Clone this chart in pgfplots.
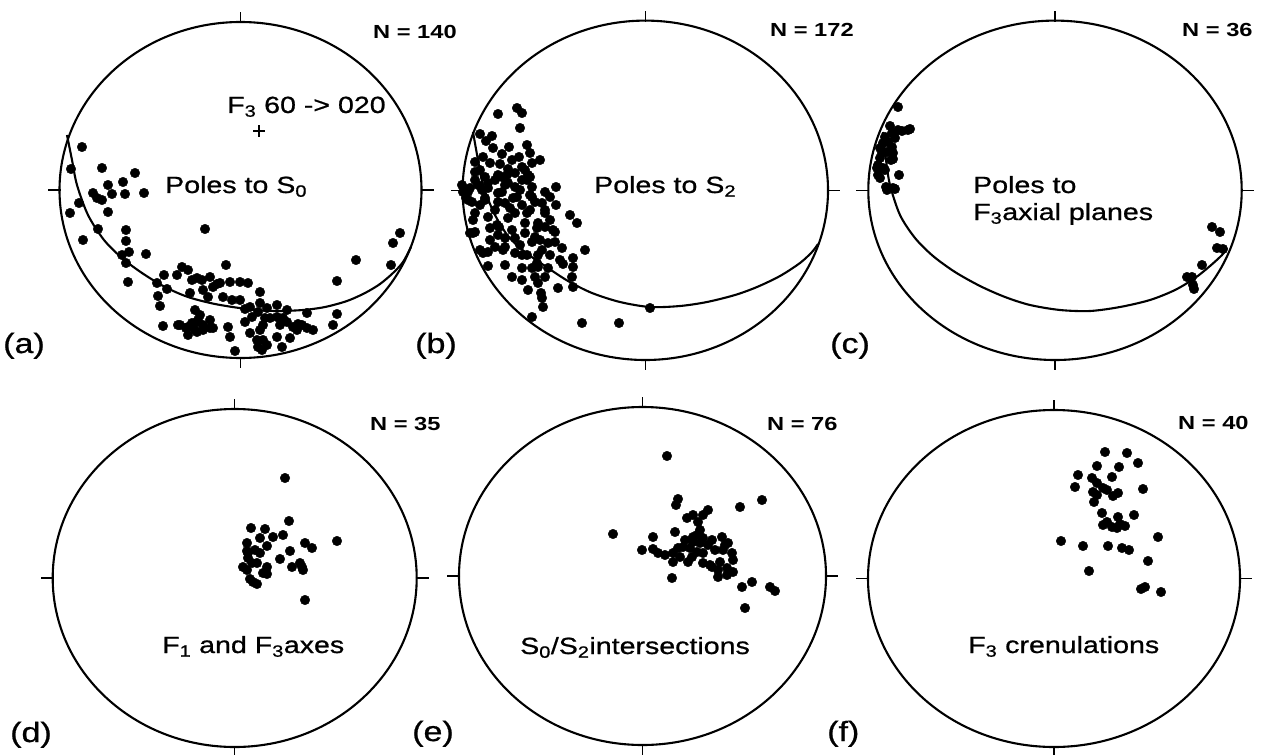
\documentclass[border=0pt]{standalone}
\usepackage{fontspec}
\setmainfont{Liberation Sans}[FakeStretch=1.22,FakeBold=0.8]
\newfontfamily\nfont{Liberation Sans}[FakeStretch=1.25]
\usepackage{pgfplots}
\pgfplotsset{compat=1.18}
\newcommand\net[4]{%
  \draw[line width=2.1bp] (axis cs:#1,#2) ellipse [x radius=#3bp, y radius=#4bp];
  \draw[line width=1.5bp] (axis cs:#1,#2) ++(0,#4bp-1bp) -- ++(0,11bp);
  \draw[line width=1.5bp] (axis cs:#1,#2) ++(0,-#4bp+1bp) -- ++(0,-11bp);
  \draw[line width=1.5bp] (axis cs:#1,#2) ++(-#3bp+1bp,0) -- ++(-13bp,0);
  \draw[line width=1.5bp] (axis cs:#1,#2) ++(#3bp-1bp,0) -- ++(13bp,0);
}
\newcommand\lbl[3]{\node[anchor=base west,inner sep=0pt,font=\fontsize{23.5}{26}\selectfont] at (axis cs:#1,#2) {#3};}
\newcommand\nlbl[3]{\node[anchor=base west,inner sep=0pt,font=\nfont\bfseries\fontsize{19}{21}\selectfont] at (axis cs:#1,#2) {#3};}
\newcommand\plbl[3]{\node[anchor=base west,inner sep=0pt,font=\fontsize{28}{30}\selectfont] at (axis cs:#1,#2) {#3};}
\begin{document}
\begin{tikzpicture}
\begin{axis}[width=1261bp,height=755bp,scale only axis,
  xmin=0,xmax=1261,ymin=0,ymax=755,y dir=reverse,hide axis,clip=false]
\coordinate (BL) at (axis cs:0,755);
\coordinate (TR) at (axis cs:1261,0);
% primitive circles with N/S/E/W ticks
\net{240.5}{190}{181}{168}
\net{645.3}{190.3}{182.7}{169.7}
\net{1055}{190.3}{186.7}{169.7}
\net{234.7}{578}{182}{169}
\net{642.5}{576}{183.5}{169}
\net{1054}{578.5}{186}{168.5}
% great circles
\addplot[smooth,line width=2.1bp,no markers] coordinates {
(67,135) (72,160) (77,185) (88,215) (104,240) (122,258) (142,273) (165,287) (188,297) (215,304) (247,309) (275,311) (303,310) (325,307) (347,301) (365,293) (380,284) (393,273) (403,262) (411,247)};
\addplot[smooth,line width=2.1bp,no markers] coordinates {
(473,132) (478,160) (483,185) (494,213) (508,236) (525,252) (545,266) (568,281) (592,293) (620,302) (650,307) (680,306) (707,302) (735,295) (757,287) (780,276) (800,263) (812,252) (818,244)};
\addplot[smooth,line width=2.1bp,no markers] coordinates {
(883,132) (886,160) (890,185) (900,215) (915,238) (933,256) (955,272) (980,286) (1005,297) (1030,305) (1060,310) (1090,311) (1120,307) (1150,300) (1175,290) (1195,278) (1210,266) (1222,255) (1227,248)};
% (a) poles to S0
\addplot[only marks,mark=*,mark size=4.8pt,black] coordinates {
(82,147)(71,169)(102,168)(135,173)(123,182)(108,185)(93,193)(97,198)(102,200)(112,194)(125,194)(144,193)(79,203)(70,213)(108,212)(98,229)(126,230)(83,240)(126,241)(129,252)(122,255)(126,263)(146,254)(128,282)(205,229)
(226,265)(182,267)(188,270)(177,275)(164,275)(192,280)(202,280)(210,277)(220,283)(230,282)(240,282)(248,283)(157,283)(167,289)(203,290)(213,287)(190,293)(208,297)(223,297)(232,300)(240,300)(260,292)(250,307)(260,303)(258,312)(267,308)(277,305)(287,310)(195,310)(200,315)(197,322)(210,320)(180,325)(188,327)(195,330)(203,330)(213,328)(228,327)(230,337)(245,322)(252,317)(265,318)(277,317)(280,325)(287,322)(293,327)(302,325)(250,333)(260,330)(263,340)(258,347)(267,345)(282,347)(290,338)(235,351)(188,335)(158,296)(160,306)(163,326)(307,313)(307,328)(313,330)(298,324)(337,314)(333,325)(337,281)(356,260)(391,265)(393,243)(400,233)
(197,278)(217,284)(245,309)(270,318)(283,318)(263,325)(277,337)(297,330)(197,332)(186,328)(192,323)(198,320)(203,325)(178,325)(210,328)(257,340)(262,350)};
\addplot[only marks,mark=+,mark size=6pt,line width=2.2bp,black] coordinates {(259,131)};
% (b) poles to S2
\addplot[only marks,mark=*,mark size=4.8pt,black] coordinates {
(517,108)(522,113)(498,114)(520,128)(480,134)(486,141)(492,136)(493,148)(509,147)(502,154)(530,153)(540,160)(519,157)(490,163)(500,164)(508,169)(522,167)(480,170)(475,162)(483,157)(532,163)(525,170)(475,172)(485,177)(498,175)(507,175)(527,180)(556,187)(530,177)(478,185)(468,192)(488,188)(502,192)(515,187)(530,195)(545,192)(550,197)(472,202)(485,198)(498,202)(513,198)(522,205)(535,202)(556,205)(545,210)(570,215)(577,223)(473,220)(488,217)(497,225)(508,218)(525,223)(537,228)(555,232)(475,232)(498,235)(515,238)(532,242)(548,243)(562,248)(585,250)(573,258)(563,264)(488,252)(503,250)(522,255)(538,255)(488,266)(505,265)(522,268)(538,267)
(553,230)(555,242)(572,277)(573,287)(558,288)(542,298)(543,307)(532,317)(582,323)(473,233)(483,253)(512,277)(522,280)(535,277)(545,277)(538,283)(532,268)(505,247)(495,247)(515,253)(527,255)(537,263)(499,227)(512,230)(525,233)(535,237)(542,250)(515,213)(527,213)(538,223)(545,227)(532,197)(517,197)(505,203)(495,210)(485,200)(468,200)(465,190)(482,190)(498,193)(508,183)(522,180)(532,187)(542,203)(545,213)(502,177)(488,183)(475,180)(515,173)(528,175)(475,213)
(650,308)(619,323)(470,233)(480,250)(573,267)(541,293)(463,192)(466,198)(470,188)(462,185)
(505,185)(520,190)(510,208)(530,210)(550,220)(540,240)(520,245)(505,238)(490,240)(480,205)(495,180)(512,160)(527,145)(560,260)(550,255)(490,228)(548,268)(528,290)};
% (c) poles to F3 axial planes
\addplot[only marks,mark=*,mark size=4.8pt,black] coordinates {
(898,107)(910,129)(902,131)(890,126)(892,133)(885,137)(895,138)(883,143)(892,147)(880,148)(887,152)(893,153)(880,158)(893,159)(878,165)(883,168)(878,175)(899,175)(887,190)(895,189)(888,142)(882,153)(877,168)(885,170)(880,178)(886,187)(893,188)(898,130)(908,130)(891,160)
(1212,227)(1220,232)(1217,248)(1223,249)(1202,265)(1187,277)(1192,277)(1193,285)(1194,289)};
% (d) F1 and F3 axes
\addplot[only marks,mark=*,mark size=4.8pt,black] coordinates {
(285,478)(289,521)(251,528)(265,529)(260,538)(273,537)(283,535)(247,543)(337,541)(305,543)(312,548)(267,546)(255,550)(247,551)(290,551)(248,558)(260,553)(280,559)(252,563)(243,567)(257,563)(267,567)(292,567)(300,563)(303,570)(247,570)(263,573)(267,574)(250,579)(257,584)(253,582)(305,600)(248,553)(302,567)};
% (e) S0/S2 intersections
\addplot[only marks,mark=*,mark size=4.8pt,black] coordinates {
(667,456)(762,500)(740,507)(678,499)(676,505)(708,510)(703,515)(693,515)(687,518)(698,522)(613,534)(653,537)(675,532)(697,535)(703,538)(722,537)(693,542)(700,543)(708,545)(728,543)(642,550)(653,549)(658,553)(665,555)(673,553)(678,548)(683,547)(690,548)(697,552)(703,553)(715,550)(723,550)(732,553)(673,562)(688,562)(703,563)(710,565)(720,562)(733,560)(712,567)(718,570)(727,568)(733,572)(718,577)(727,575)(672,578)(742,587)(752,582)(770,587)(775,591)(745,608)(693,537)(692,557)(680,557)(685,540)(700,530)(712,540)(725,545)};
% (f) F3 crenulations
\addplot[only marks,mark=*,mark size=4.8pt,black] coordinates {
(1105,452)(1127,453)(1138,463)(1097,466)(1119,467)(1078,475)(1092,478)(1112,477)(1075,487)(1097,483)(1103,488)(1093,492)(1107,490)(1118,493)(1143,489)(1097,495)(1113,496)(1094,502)(1102,513)(1134,515)(1118,517)(1103,525)(1112,527)(1120,524)(1125,526)(1117,528)(1158,537)(1061,541)(1083,546)(1108,546)(1122,548)(1129,550)(1148,561)(1089,571)(1145,587)(1141,589)(1161,592)(1107,522)};
% texts
\lbl{165}{193}{Poles to S\textsubscript{0}}
\lbl{227}{113}{F\textsubscript{3} 60 -> 020}
\lbl{594}{193}{Poles to S\textsubscript{2}}
\lbl{973}{193}{Poles to}
\lbl{973}{220}{F\textsubscript{3}axial planes}
\lbl{162}{653}{F\textsubscript{1} and F\textsubscript{3}axes}
\lbl{520}{654}{S\textsubscript{0}/S\textsubscript{2}intersections}
\lbl{968}{653}{F\textsubscript{3} crenulations}
\nlbl{373}{39}{N = 140}
\nlbl{770}{37}{N = 172}
\nlbl{1182}{37}{N = 36}
\nlbl{370}{430}{N = 35}
\nlbl{767}{430}{N = 76}
\nlbl{1178}{429}{N = 40}
\plbl{3}{353}{(a)}
\plbl{415}{353}{(b)}
\plbl{830}{353}{(c)}
\plbl{10}{742}{(d)}
\plbl{412}{741}{(e)}
\plbl{827}{741}{(f)}
\end{axis}
\pgfresetboundingbox
\path (BL) rectangle (TR);
\end{tikzpicture}
\end{document}
